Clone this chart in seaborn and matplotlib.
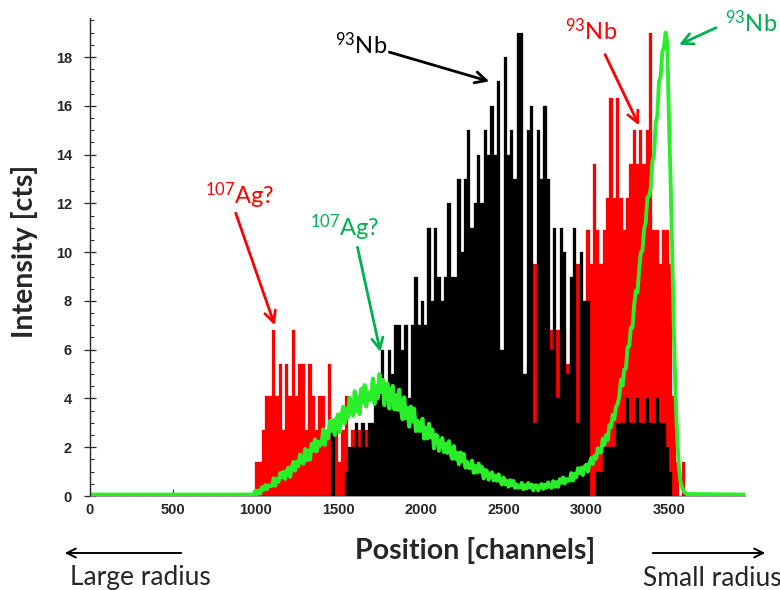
import numpy as np
import pandas as pd
import matplotlib.pyplot as plt
import seaborn as sns

# red and black spectra are binned in 20-channel bins starting at channel 1000
bin_width = 20
first_channel = 1000

# red spectrum (107Ag? bump + 93Nb at small radius)
red_counts = [
    1.4, 1.4, 2.7, 4.1, 4.1, 6.8, 4.1, 5.4, 2.7, 5.4,
    4.1, 6.8, 4.1, 5.4, 5.4, 2.7, 5.4, 4.1, 2.7, 4.1,
    4.1, 2.7, 5.4, 2.7, 2.7, 1.4, 2.7, 4.1, 1.4, 2.7,
    1.4, 2.7, 1.4, 2.7, 1.4, 1.4, 2.7, 1.4, 1.4, 0,
    1.4, 1.4, 0, 1.4, 2.7, 1.4, 0, 1.4, 1.4, 0,
    1.4, 0, 1.4, 1.4, 0, 1.4, 0, 1.4, 0, 1.4,
    0, 1.4, 1.4, 0, 1.4, 0, 1.4, 2.7, 1.4, 2.7,
    1.4, 2.7, 2.7, 1.4, 2.7, 2.7, 4.1, 2.7, 6.8, 2.7,
    4.1, 4.1, 5.4, 4.1, 9.5, 4.1, 5.4, 4.1, 5.4, 6.8,
    5.4, 6.8, 5.4, 6.8, 5.4, 6.8, 6.8, 9.5, 5.4, 6.8,
    10.9, 9.5, 13.6, 10.9, 9.5, 10.9, 12.2, 16.3, 12.2, 16.3,
    12.2, 10.9, 12.2, 13.6, 15.0, 13.6, 15.0, 13.6, 15.0, 19.0,
    10.9, 10.9, 9.5, 10.9, 10.9, 9.5, 4.1, 1.4, 0, 1.4,
]

# black spectrum (93Nb, broad peak)
black_counts = [
    0, 0, 0, 0, 0, 0, 0, 0, 0, 0,
    0, 0, 0, 0, 0, 0, 0, 0, 0, 0,
    0, 0, 0, 3, 0, 0, 0, 1, 2, 2,
    3, 2, 3, 2, 3, 3, 4, 5, 6, 4,
    6, 5, 7, 7, 6, 7, 4, 7, 9, 7,
    8, 7, 11, 8, 11, 9, 8, 9, 12, 9,
    9, 13, 10, 13, 15, 11, 12, 14, 12, 15,
    14, 16, 14, 17, 6, 18, 14, 15, 13, 19,
    19, 5, 15, 16, 3, 15, 13, 16, 13, 6,
    11, 4, 11, 10, 5, 9, 11, 3, 10, 8,
    8, 0, 0, 1, 1, 2, 2, 2, 2, 3,
    3, 3, 4, 3, 3, 4, 3, 3, 4, 3,
    3, 4, 3, 3, 2, 1, 0, 0, 0, 0,
]

# green spectrum, one value every 10 channels from 1000 to 3610
green_step = 10
green_counts = [
    0.22, 0.07, 0.23, 0.10, 0.36, 0.26, 0.45, 0.28, 0.44, 0.40,
    0.42, 0.73, 0.42, 0.71, 0.58, 0.95, 0.76, 0.99, 0.70, 1.05,
    1.17, 0.78, 1.18, 1.40, 1.04, 1.41, 1.22, 1.70, 1.40, 1.32,
    1.93, 1.47, 1.87, 1.48, 2.14, 1.85, 2.32, 1.83, 2.23, 2.06,
    2.14, 2.74, 2.09, 2.65, 2.36, 3.08, 2.67, 3.11, 2.50, 3.18,
    3.35, 2.62, 3.29, 3.66, 2.98, 3.60, 3.22, 4.04, 3.46, 3.28,
    4.30, 3.47, 4.07, 3.35, 4.39, 3.83, 4.55, 3.66, 4.26, 3.92,
    4.01, 4.82, 3.77, 4.52, 4.01, 5.00, 4.26, 4.77, 3.72, 4.59,
    4.61, 3.58, 4.23, 4.52, 3.55, 4.14, 3.53, 4.36, 3.51, 3.14,
    4.05, 3.18, 3.61, 2.84, 3.67, 3.05, 3.58, 2.66, 3.09, 2.67,
    2.68, 3.17, 2.35, 2.80, 2.36, 2.97, 2.41, 2.72, 1.95, 2.52,
    2.46, 1.85, 2.22, 2.38, 1.80, 2.14, 1.77, 2.25, 1.74, 1.52,
    2.05, 1.52, 1.77, 1.30, 1.79, 1.41, 1.72, 1.16, 1.41, 1.15,
    1.15, 1.45, 0.95, 1.23, 0.96, 1.33, 0.99, 1.19, 0.72, 1.07,
    1.02, 0.67, 0.88, 0.97, 0.64, 0.83, 0.62, 0.89, 0.60, 0.47,
    0.76, 0.48, 0.62, 0.38, 0.65, 0.45, 0.62, 0.33, 0.47, 0.34,
    0.36, 0.54, 0.28, 0.44, 0.31, 0.53, 0.35, 0.47, 0.23, 0.43,
    0.44, 0.23, 0.41, 0.49, 0.29, 0.46, 0.34, 0.56, 0.39, 0.33,
    0.61, 0.38, 0.57, 0.37, 0.69, 0.54, 0.76, 0.51, 0.70, 0.62,
    0.64, 0.94, 0.63, 0.91, 0.77, 1.14, 0.94, 1.16, 0.86, 1.21,
    1.28, 1.00, 1.34, 1.56, 1.31, 1.64, 1.53, 1.96, 1.78, 1.79,
    2.35, 2.10, 2.50, 2.30, 2.90, 2.82, 3.33, 3.15, 3.65, 3.77,
    4.08, 4.77, 4.53, 5.19, 5.22, 6.10, 6.14, 6.91, 6.90, 7.85,
    8.41, 8.35, 9.27, 9.98, 10.05, 10.94, 11.22, 12.25, 12.29, 12.62,
    13.7, 14.0, 15.3, 15.6, 17.0, 17.2, 18.2, 18.4, 19.0, 18.6,
    15.5, 13.0, 10.0, 6.7, 4.2, 2.4, 1.2, 0.6, 0.35, 0.2,
    0.12, 0.08,
]
green_baseline = 0.06

sns.set_style("ticks")
plt.rcParams['font.family'] = ['Lato', 'DejaVu Sans']
plt.rcParams['mathtext.fontset'] = 'custom'
plt.rcParams['mathtext.rm'] = 'Lato'

red_col = '#ff0000'
green_line = '#2bee2b'
green_text = '#00b050'

fig = plt.figure(figsize=(7.8, 5.9), dpi=100)
ax = fig.add_axes([90 / 780, 94 / 590, 655 / 780, 478 / 590])

red_df = pd.DataFrame({'ch': first_channel + bin_width * np.arange(len(red_counts)) + bin_width / 2,
                       'cts': red_counts})
black_df = pd.DataFrame({'ch': first_channel + bin_width * np.arange(len(black_counts)) + bin_width / 2,
                         'cts': black_counts})
hist_range = (first_channel, first_channel + bin_width * len(red_counts))

sns.histplot(data=red_df, x='ch', weights='cts', binwidth=bin_width, binrange=hist_range,
             color=red_col, alpha=1, edgecolor=red_col, linewidth=0.2, ax=ax)
sns.histplot(data=black_df, x='ch', weights='cts', binwidth=bin_width, binrange=hist_range,
             color='black', alpha=1, edgecolor='black', linewidth=0.2, ax=ax)

green_ch = first_channel + green_step * np.arange(len(green_counts))
green_df = pd.DataFrame({
    'ch': np.r_[0, first_channel - green_step, green_ch, 3955],
    'cts': np.r_[green_baseline, green_baseline, green_counts, green_baseline],
})
sns.lineplot(data=green_df, x='ch', y='cts', color=green_line, linewidth=2.8,
             estimator=None, sort=False, ax=ax)

ax.set_xlim(0, 3960)
ax.set_ylim(0, 19.6)
ax.set_xticks(np.arange(0, 3501, 500))
ax.set_xticks(np.arange(0, 3901, 100), minor=True)
ax.set_yticks(np.arange(0, 19, 2))
ax.set_yticks(np.arange(0, 19.6, 0.5), minor=True)
ax.set_xlabel('')
ax.set_ylabel('')
for s in ['top', 'right']:
    ax.spines[s].set_visible(False)
ax.spines['bottom'].set_color('#888888')
ax.spines['bottom'].set_linewidth(0.6)
ax.spines['left'].set_linewidth(1.0)

tick_font = ['Liberation Sans Narrow', 'Liberation Sans', 'DejaVu Sans']
ax.tick_params(axis='y', which='major', direction='inout', length=8, width=0.9, pad=9)
ax.tick_params(axis='y', which='minor', direction='in', length=3, width=0.7)
ax.tick_params(axis='x', which='major', direction='in', length=5, width=0.8, pad=5)
ax.tick_params(axis='x', which='minor', direction='in', length=2.5, width=0.6)
for lab in ax.get_xticklabels() + ax.get_yticklabels():
    lab.set_family(tick_font)
    lab.set_fontweight('bold')
    lab.set_fontsize(10.5)

# axis titles
fig.text(475 / 780, 1 - 551 / 590, 'Position [channels]', ha='center', va='center',
         fontsize=20.5, fontweight='bold')
fig.text(25 / 780, 1 - 251 / 590, 'Intensity [cts]', ha='center', va='center',
         rotation=90, fontsize=20.5, fontweight='bold')

# radius hints below the axis
arrow_kw = dict(arrowstyle='->', color='black', lw=1.4, mutation_scale=16)
ax.annotate('', xy=(62 / 780, 1 - 553 / 590), xytext=(184 / 780, 1 - 553 / 590),
            xycoords='figure fraction', textcoords='figure fraction', arrowprops=arrow_kw)
ax.annotate('', xy=(768 / 780, 1 - 553 / 590), xytext=(650 / 780, 1 - 553 / 590),
            xycoords='figure fraction', textcoords='figure fraction', arrowprops=arrow_kw)
fig.text(140 / 780, 1 - 578 / 590, 'Large radius', ha='center', va='center', fontsize=19)
fig.text(712 / 780, 1 - 578 / 590, 'Small radius', ha='center', va='center', fontsize=19)

# peak labels
labels = [
    (r'$\mathregular{^{93}}$Nb', 'black', (1640, 18.5), (1810, 18.2), (2414, 17.0)),
    (r'$\mathregular{^{107}}$Ag?', red_col, (905, 12.3), (881, 11.6), (1117, 7.0)),
    (r'$\mathregular{^{107}}$Ag?', green_text, (1539, 11.0), (1617, 10.2), (1756, 5.9)),
    (r'$\mathregular{^{93}}$Nb', red_col, (3030, 19.1), (3114, 18.1), (3319, 15.2)),
    (r'$\mathregular{^{93}}$Nb', green_text, (3995, 19.4), (3784, 19.2), (3561, 18.5)),
]
for text, col, tpos, start, end in labels:
    ax.text(tpos[0], tpos[1], text, color=col, fontsize=17, ha='center', va='center',
            clip_on=False)
    ax.annotate('', xy=end, xytext=start, annotation_clip=False,
                arrowprops=dict(arrowstyle='->', color=col, lw=2, mutation_scale=20,
                                shrinkA=0, shrinkB=0))

fig.savefig('out.png', dpi=100)
